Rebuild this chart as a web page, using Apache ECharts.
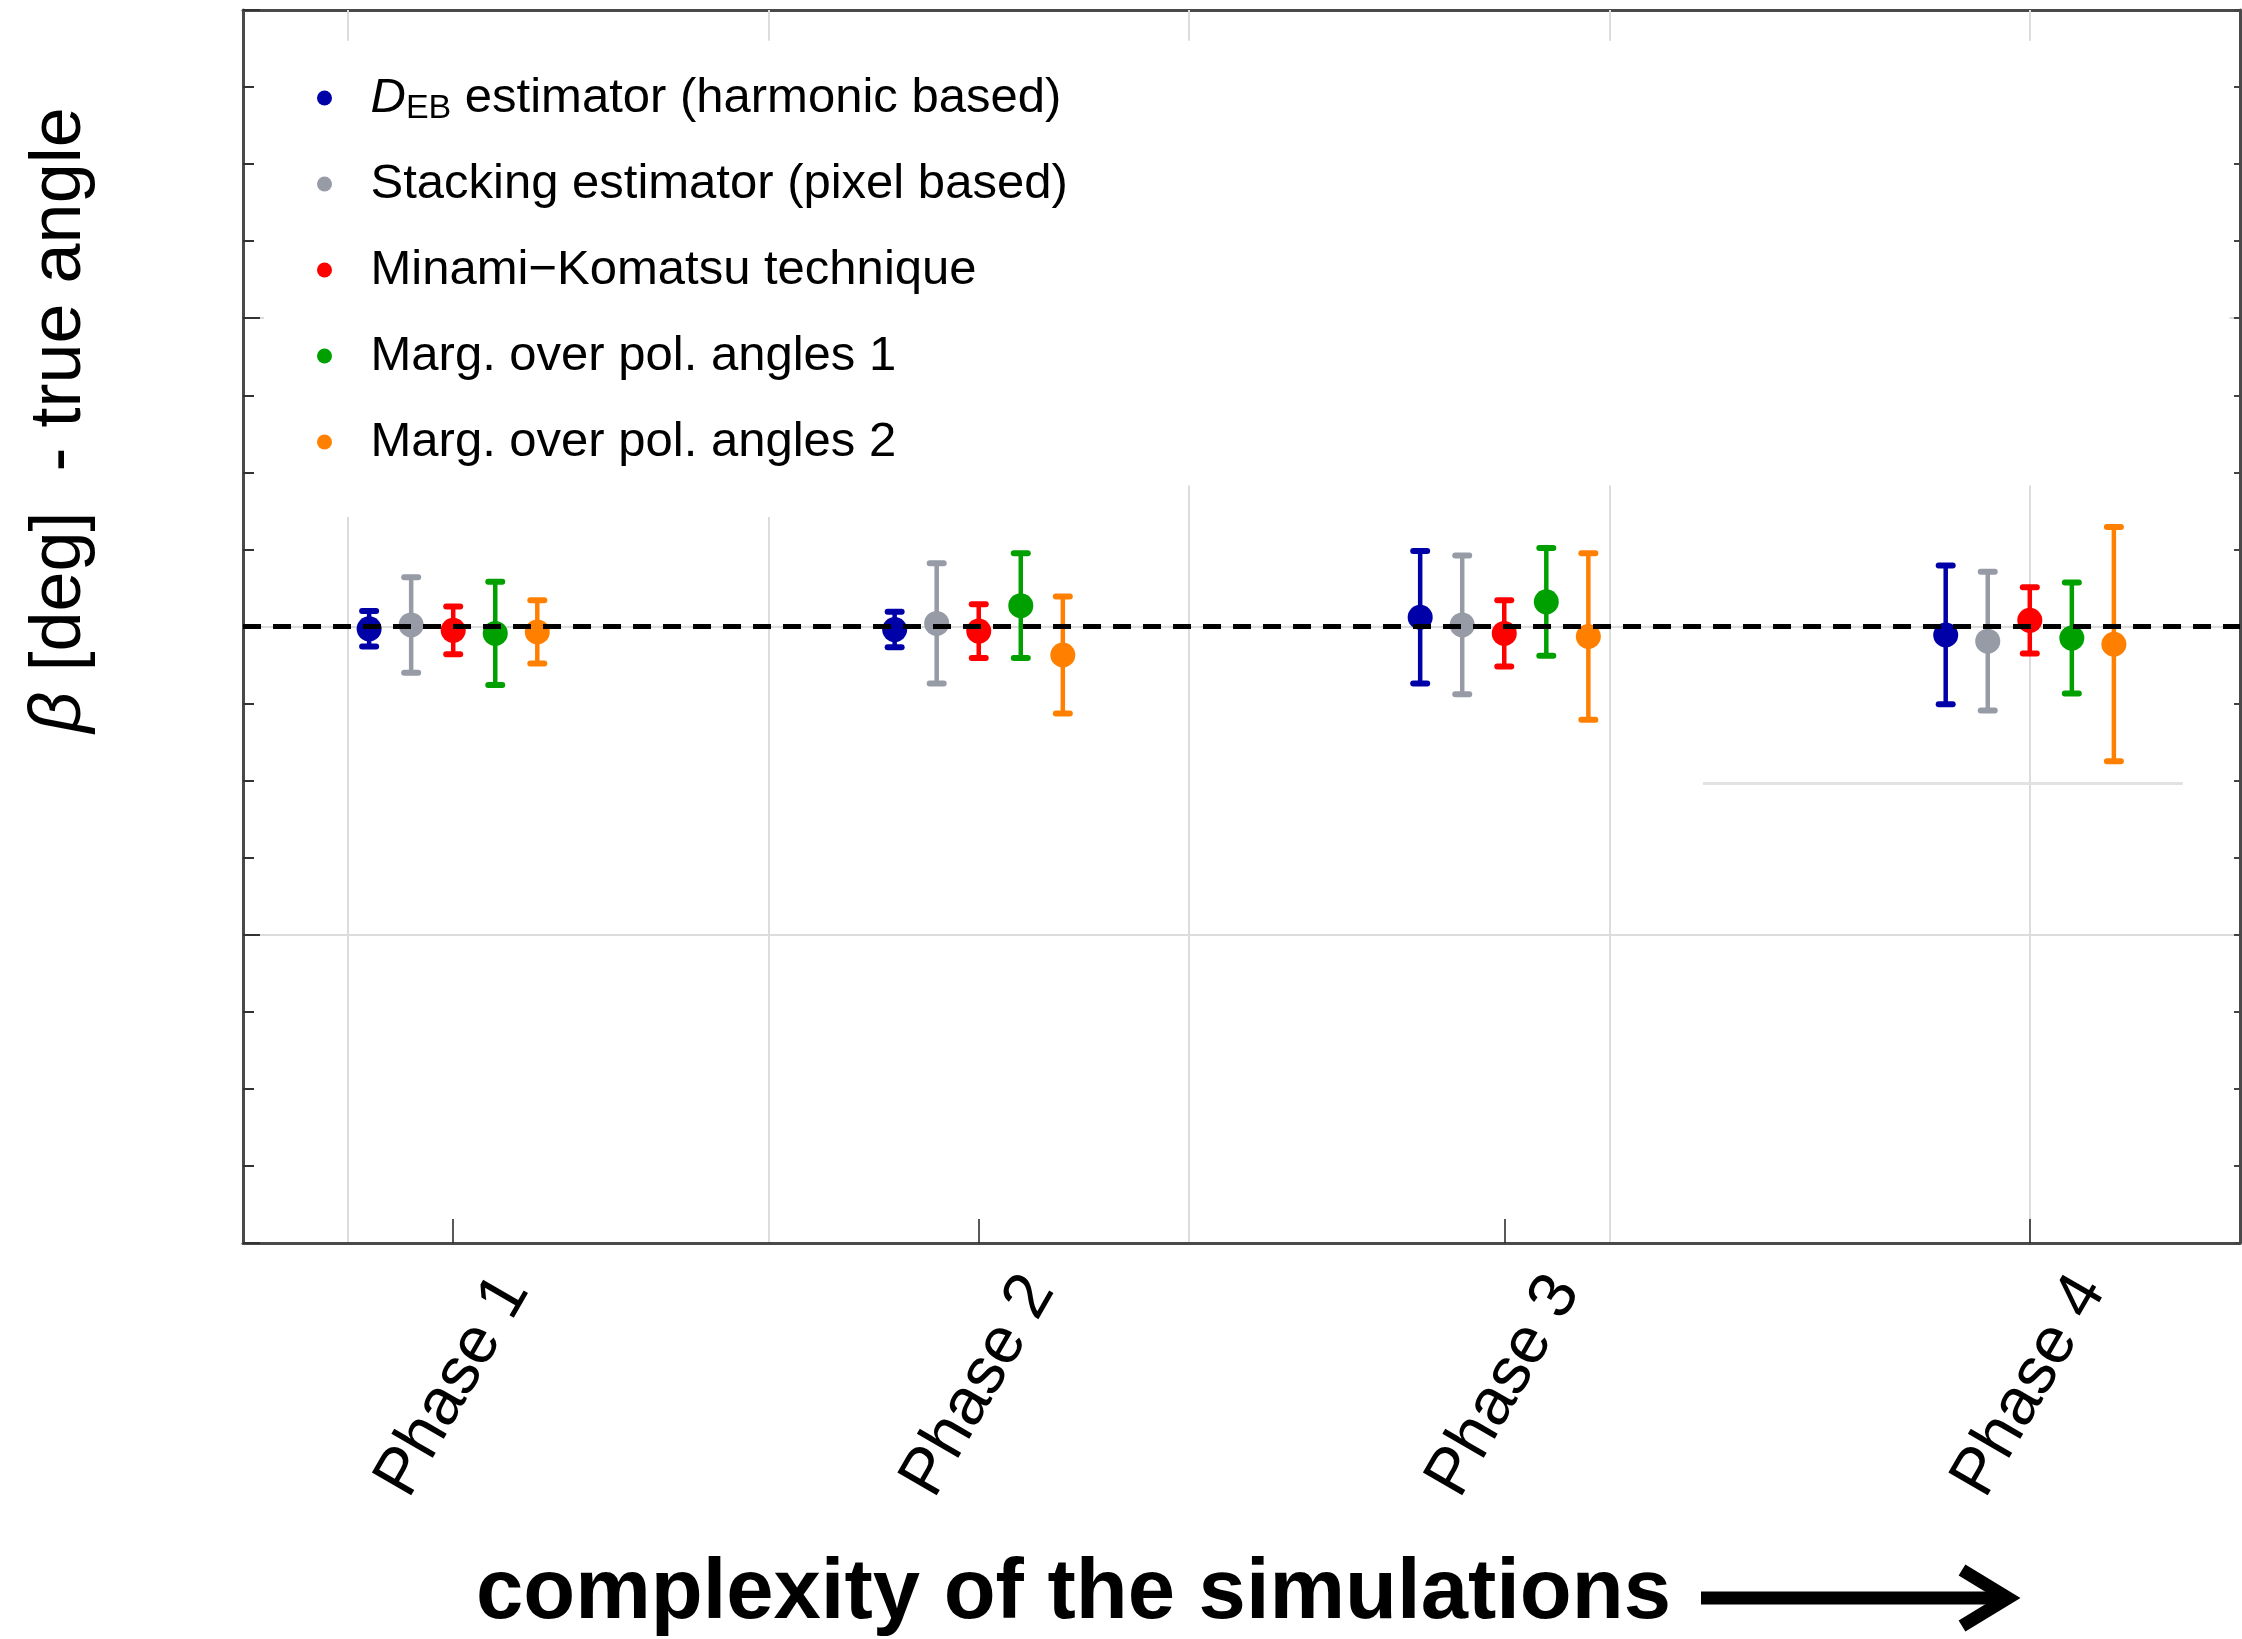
<!DOCTYPE html>
<html>
<head>
<meta charset="utf-8">
<script src="https://cdn.jsdelivr.net/npm/echarts@6/dist/echarts.min.js"></script>
<style>
  html, body { margin: 0; padding: 0; background: #fff; }
  #chart { width: 2242px; height: 1639px; }
</style>
</head>
<body>
<div id="chart"></div>
<script>
const FONT = 'Liberation Sans, Arial, Helvetica, sans-serif'

// categories
const phases = ['Phase 1', 'Phase 2', 'Phase 3', 'Phase 4']
const phaseX = [1, 2, 3, 4]
const gridX = [0.8, 1.6, 2.4, 3.2, 4.0]

const estimators = [
    'DEB estimator (harmonic based)',
    'Stacking estimator (pixel based)',
    'Minami\u2212Komatsu technique',
    'Marg. over pol. angles 1',
    'Marg. over pol. angles 2'
]
const offsets = [-0.16, -0.08, 0, 0.08, 0.16]
const colors = ['#0000a8', '#969ba5', '#ff0000', '#00a000', '#ff8000']

// beta - true angle [deg], one value per phase
const dEB = [-0.003, -0.004, 0.012, -0.011]
const dEBErr = [0.023, 0.023, 0.086, 0.090]
const stacking = [0.002, 0.004, 0.002, -0.019]
const stackingErr = [0.062, 0.078, 0.090, 0.090]
const minamiKomatsu = [-0.005, -0.006, -0.009, 0.008]
const minamiKomatsuErr = [0.031, 0.035, 0.043, 0.043]
const margPol1 = [-0.009, 0.027, 0.032, -0.015]
const margPol1Err = [0.067, 0.068, 0.070, 0.072]
const margPol2 = [-0.007, -0.037, -0.013, -0.023]
const margPol2Err = [0.041, 0.076, 0.108, 0.152]

const values = [dEB, stacking, minamiKomatsu, margPol1, margPol2]
const errors = [dEBErr, stackingErr, minamiKomatsuErr, margPol1Err, margPol2Err]

function errorBar(color) {
    return function (params, api) {
        const x = api.value(0), y = api.value(1), e = api.value(2)
        const hi = api.coord([x, y + e])
        const lo = api.coord([x, y - e])
        const c = api.coord([x, y])
        const cap = 7
        return {
            type: 'group',
            children: [
                { type: 'line', shape: { x1: hi[0], y1: hi[1], x2: lo[0], y2: lo[1] }, style: { stroke: color, lineWidth: 4.5 } },
                { type: 'line', shape: { x1: hi[0] - cap, y1: hi[1], x2: hi[0] + cap, y2: hi[1] }, style: { stroke: color, lineWidth: 6, lineCap: 'round' } },
                { type: 'line', shape: { x1: lo[0] - cap, y1: lo[1], x2: lo[0] + cap, y2: lo[1] }, style: { stroke: color, lineWidth: 6, lineCap: 'round' } },
                { type: 'circle', shape: { cx: c[0], cy: c[1], r: 12.5 }, style: { fill: color } }
            ]
        }
    }
}

const series = estimators.map((name, k) => ({
    name,
    type: 'custom',
    z: 3,
    itemStyle: { color: colors[k] },
    encode: { x: 0, y: 1 },
    data: phaseX.map((p, i) => [p + offsets[k], values[k][i], errors[k][i]]),
    renderItem: errorBar(colors[k])
}))

// zero reference line, blank legend backdrop and a stray gray segment
series.push({
    name: 'ref',
    type: 'line',
    data: [],
    silent: true,
    markLine: {
        silent: true,
        symbol: ['none', 'none'],
        label: { show: false },
        data: [
            { yAxis: 0, lineStyle: { color: '#000', width: 5, type: [18, 12] } },
            [
                { coord: [3.378, -0.203], lineStyle: { color: '#e2e2e2', width: 3, type: 'solid' } },
                { coord: [4.291, -0.203] }
            ]
        ]
    },
    markArea: {
        silent: true,
        itemStyle: { color: '#fff' },
        data: [
            [{ coord: [0.64, 0.76] }, { coord: [2.0, 0.142] }],
            [{ coord: [2.0, 0.76] }, { coord: [4.38, 0.183] }]
        ]
    }
})

const frame = { show: true, onZero: false, lineStyle: { color: '#4a4a4a', width: 3 } }

const chart = echarts.init(document.getElementById('chart'))
chart.setOption({
    animation: false,
    backgroundColor: '#fff',
    grid: { left: 243, right: 2, top: 10, bottom: 396 },
    legend: {
        data: estimators,
        orient: 'vertical',
        left: 317,
        top: 70,
        padding: 0,
        icon: 'circle',
        itemWidth: 82,
        itemHeight: 15,
        itemGap: 30,
        formatter: name => name === estimators[0] ? '{i|D}{s|EB} estimator (harmonic based)' : name,
        textStyle: {
            fontSize: 49, fontFamily: FONT, color: '#000', lineHeight: 56,
            rich: {
                i: { fontStyle: 'italic', fontSize: 49, lineHeight: 56 },
                s: { fontSize: 34, lineHeight: 56, verticalAlign: 'bottom' }
            }
        }
    },
    xAxis: [
        {
            type: 'value', position: 'bottom', min: 0.6, max: 4.4,
            axisLine: frame,
            axisTick: { customValues: phaseX, inside: true, length: 24, lineStyle: { color: '#222', width: 1.5 } },
            axisLabel: {
                customValues: phaseX,
                formatter: v => phases[Math.round(v) - 1],
                rotate: 60, align: 'center', verticalAlign: 'middle', margin: 143,
                fontSize: 66, fontFamily: FONT, color: '#000'
            },
            splitLine: { show: false }
        },
        {
            type: 'value', position: 'top', min: 0.6, max: 4.4,
            axisLine: frame,
            axisTick: { customValues: gridX, inside: true, length: 25, lineStyle: { color: '#dcdcdc', width: 2 } },
            axisLabel: { show: false },
            splitLine: { show: true, lineStyle: { color: '#dcdcdc', width: 2 } }
        }
    ],
    yAxis: [
        {
            type: 'value', position: 'left', min: -0.8, max: 0.8, interval: 0.4,
            axisLine: frame,
            axisTick: { inside: true, length: 17, lineStyle: { color: '#333', width: 2 } },
            minorTick: { show: true, splitNumber: 4, length: 11, lineStyle: { color: '#333', width: 2 } },
            axisLabel: { show: false },
            splitLine: { show: true, lineStyle: { color: '#dcdcdc', width: 2 } }
        },
        {
            type: 'value', position: 'right', min: -0.8, max: 0.8, interval: 0.4,
            axisLine: frame,
            axisTick: { inside: true, length: 6, lineStyle: { color: '#444', width: 2 } },
            minorTick: { show: true, splitNumber: 4, length: 6, lineStyle: { color: '#444', width: 2 } },
            axisLabel: { show: false },
            splitLine: { show: false }
        }
    ],
    graphic: [
        {
            type: 'text', x: 60, y: 420, rotation: Math.PI / 2,
            style: {
                text: '{b|\u03b2} [deg]  - true angle',
                fontSize: 72, fontFamily: FONT, fill: '#000',
                align: 'center', verticalAlign: 'middle',
                rich: { b: { fontStyle: 'italic', fontSize: 72, fontFamily: FONT } }
            }
        },
        {
            type: 'text', x: 476, y: 1595,
            style: {
                text: 'complexity of the simulations',
                fontSize: 85, fontWeight: 'bold', fontFamily: FONT, fill: '#000',
                align: 'left', verticalAlign: 'middle'
            }
        },
        {
            type: 'line', shape: { x1: 1701, y1: 1598, x2: 2004, y2: 1598 },
            style: { stroke: '#000', lineWidth: 13 }
        },
        {
            type: 'polyline', shape: { points: [[1962, 1570], [2008, 1598], [1962, 1626]] },
            style: { stroke: '#000', lineWidth: 13, fill: null, lineJoin: 'miter' }
        }
    ],
    series
})
</script>
</body>
</html>
